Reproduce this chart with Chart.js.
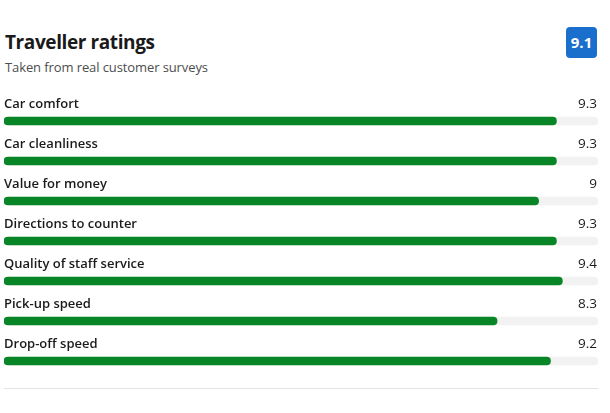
<!DOCTYPE html>
<html>
<head>
<meta charset="utf-8">
<script src="https://cdn.jsdelivr.net/npm/chart.js@4"></script>
<style>
html,body{margin:0;padding:0;background:#fff;width:610px;height:413px;overflow:hidden;font-family:"Open Sans","Noto Sans",sans-serif;}
#wrap{position:relative;width:610px;height:413px;}
#title{position:absolute;left:5px;top:29px;font-size:19px;font-weight:700;color:#1a1a1a;letter-spacing:-0.4px;}
#sub{position:absolute;left:5px;top:58px;font-size:13px;color:#4d4d4d;letter-spacing:-0.1px;}
#badge{position:absolute;left:566px;top:27px;width:31px;height:31px;border-radius:4px;background:#1a6fcc;color:#fff;font-weight:700;font-size:15px;line-height:31px;text-align:center;}
#divider{position:absolute;left:4px;top:388px;width:594px;height:1px;background:#e2e2e2;}
canvas{position:absolute;left:0;top:0;}
</style>
</head>
<body>
<div id="wrap">
<div id="title">Traveller ratings</div>
<div id="sub">Taken from real customer surveys</div>
<div id="badge">9.1</div>
<canvas id="c" width="610" height="413"></canvas>
<div id="divider"></div>
</div>
<script>
const categories = ["Car comfort","Car cleanliness","Value for money","Directions to counter","Quality of staff service","Pick-up speed","Drop-off speed"];
const ratings = [9.3, 9.3, 9, 9.3, 9.4, 8.3, 9.2];
const valueLabels = ["9.3","9.3","9","9.3","9.4","8.3","9.2"];
const maxScore = 10;
const track = categories.map(() => maxScore);

const labelPlugin = {
  id: 'rowLabels',
  afterDatasetsDraw(chart) {
    const ctx = chart.ctx;
    const y = chart.scales.y;
    const area = chart.chartArea;
    ctx.save();
    ctx.textBaseline = 'middle';
    categories.forEach((c, i) => {
      const py = y.getPixelForValue(i);
      ctx.font = '600 13px "Open Sans","Noto Sans",sans-serif';
      ctx.fillStyle = '#1a1a1a';
      ctx.textAlign = 'left';
      ctx.fillText(c, area.left, py - 17);
      ctx.font = '400 13.5px "Open Sans","Noto Sans",sans-serif';
      ctx.fillStyle = '#1a1a1a';
      ctx.textAlign = 'right';
      ctx.fillText(valueLabels[i], area.right - 1, py - 17);
    });
    ctx.restore();
  }
};

new Chart(document.getElementById('c'), {
  type: 'bar',
  data: {
    labels: categories,
    datasets: [
      {data: ratings, backgroundColor: '#088526', barThickness: 8, borderRadius: 4, borderSkipped: false, grouped: false, order: 0},
      {data: track, backgroundColor: '#f2f2f2', barThickness: 8, borderRadius: 4, borderSkipped: false, grouped: false, order: 1}
    ]
  },
  options: {
    indexAxis: 'y',
    responsive: false,
    animation: false,
    layout: {padding: {left: 4, right: 12, top: 101, bottom: 32}},
    plugins: {legend: {display: false}, tooltip: {enabled: false}},
    scales: {
      x: {display: false, min: 0, max: maxScore},
      y: {display: false}
    }
  },
  plugins: [labelPlugin]
});
</script>
</body>
</html>
